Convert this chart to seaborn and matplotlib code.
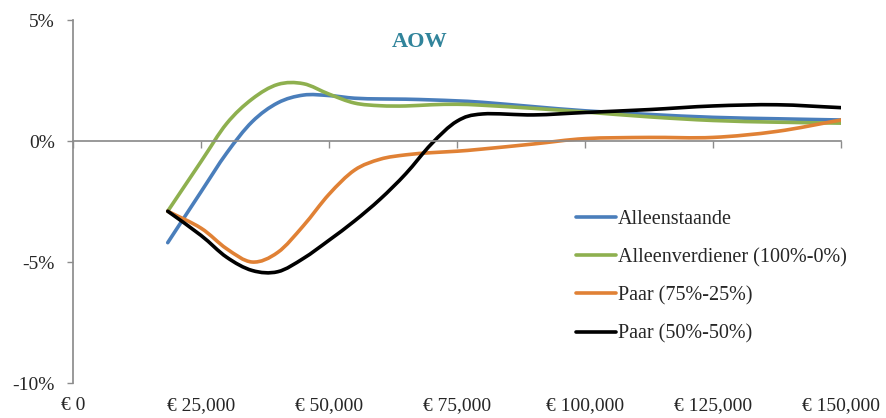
"""Recreate the AOW income-effect chart (smoothed lines, Excel style)."""

import matplotlib

matplotlib.use("Agg")
import matplotlib.pyplot as plt
import numpy as np
import pandas as pd
import seaborn as sns
from matplotlib.lines import Line2D
from matplotlib.patches import PathPatch
from matplotlib.path import Path
from matplotlib.ticker import FuncFormatter


income = [18500, 25000, 30000, 35000, 40000, 45000, 50000, 55000, 60000, 65000,
          70000, 75000, 80000, 90000, 100000, 112500, 125000, 137500, 150000]

alleenstaande = [-4.2, -2.1, -0.5, 0.8, 1.58, 1.9, 1.88, 1.77, 1.74, 1.73,
                 1.7, 1.66, 1.6, 1.42, 1.25, 1.1, 0.98, 0.92, 0.87]
alleenverdiener = [-2.9, -0.85, 0.72, 1.74, 2.34, 2.37, 1.94, 1.57, 1.46, 1.45,
                   1.5, 1.52, 1.48, 1.35, 1.2, 1.0, 0.85, 0.78, 0.74]
paar_75_25 = [-2.9, -3.6, -4.45, -5.0, -4.6, -3.5, -2.2, -1.2, -0.75, -0.57,
              -0.48, -0.42, -0.33, -0.12, 0.1, 0.15, 0.15, 0.4, 0.87]
paar_50_50 = [-2.9, -3.9, -4.8, -5.35, -5.4, -4.85, -4.1, -3.3, -2.4, -1.35,
              -0.12, 0.82, 1.12, 1.08, 1.18, 1.3, 1.45, 1.5, 1.38]

series_names = ["Alleenstaande", "Alleenverdiener (100%-0%)",
                "Paar (75%-25%)", "Paar (50%-50%)"]
series_values = [alleenstaande, alleenverdiener, paar_75_25, paar_50_50]
series_colors = ["#4A7EBB", "#8EB04F", "#E08135", "#000000"]

x_ticks = [0, 25000, 50000, 75000, 100000, 125000, 150000]
y_ticks = [-10, -5, 0, 5]


def smooth_path(xs, ys):
    """Excel-like smoothing: Catmull-Rom segments as cubic Bezier curves."""
    pts = np.column_stack([xs, ys]).astype(float)
    first = 2 * pts[0] - pts[1]
    last = 2 * pts[-1] - pts[-2]
    padded = np.vstack([first, pts, last])
    verts = [pts[0]]
    codes = [Path.MOVETO]
    for i in range(len(pts) - 1):
        p0, p1, p2, p3 = padded[i], padded[i + 1], padded[i + 2], padded[i + 3]
        c1 = p1 + (p2 - p0) / 6.0
        c2 = p2 - (p3 - p1) / 6.0
        verts += [c1, c2, p2]
        codes += [Path.CURVE4] * 3
    return Path(verts, codes)


frame = pd.DataFrame(
    {
        "income": income * len(series_names),
        "effect": [v for vals in series_values for v in vals],
        "series": [n for n in series_names for _ in income],
    }
)

sns.set_theme(style="white")
plt.rcParams["font.family"] = ["Liberation Serif", "DejaVu Serif"]

fig = plt.figure(figsize=(8.86, 4.18), dpi=100)
ax = fig.add_axes([0.0824, 0.0837, 0.8668, 0.8683])

# raw data through seaborn (invisible), smoothed curves drawn on top
sns.lineplot(data=frame, x="income", y="effect", hue="series",
             palette=series_colors, linewidth=0, legend=False, ax=ax)
for name, vals, color in zip(series_names, series_values, series_colors):
    ax.add_patch(PathPatch(smooth_path(income, vals), fill=False,
                           edgecolor=color, linewidth=2.6,
                           capstyle="round", joinstyle="round"))

ax.set_xlim(0, 150000)
ax.set_ylim(-10, 5)
ax.set_xticks(x_ticks)
ax.set_yticks(y_ticks)
ax.yaxis.set_major_formatter(FuncFormatter(lambda v, _: f"{v:.0f}%"))
ax.set_xlabel("")
ax.set_ylabel("")

axis_grey = "#8C8C8C"
for side in ["top", "right"]:
    ax.spines[side].set_visible(False)
ax.spines["left"].set_color(axis_grey)
ax.spines["bottom"].set_color(axis_grey)
ax.spines["bottom"].set_position(("data", 0))
ax.tick_params(axis="x", direction="out", length=5, color=axis_grey,
               width=1, labelbottom=False, bottom=True)
ax.tick_params(axis="y", direction="out", length=4, color=axis_grey,
               width=1, labelsize=14, pad=9, left=True)

low_axis = ax.secondary_xaxis("bottom")
low_axis.set_xticks(x_ticks)
low_axis.xaxis.set_major_formatter(FuncFormatter(lambda v, _: f"€ {v:,.0f}"))
low_axis.spines["bottom"].set_visible(False)
low_axis.tick_params(length=0, labelsize=14, pad=10)

ax.text(0.452, 0.94, "AOW", transform=ax.transAxes, ha="center",
        va="center", fontsize=16, fontweight="bold", color="#31849B")

handles = [Line2D([], [], color=c, linewidth=2.6) for c in series_colors]
ax.legend(handles, series_names, loc="upper left",
          bbox_to_anchor=(0.645, 0.5), frameon=False, fontsize=14.5,
          handlelength=1.95, handletextpad=0.12, labelspacing=0.95,
          borderaxespad=0)

fig.savefig("out.png", dpi=100, facecolor="white")
plt.close(fig)
